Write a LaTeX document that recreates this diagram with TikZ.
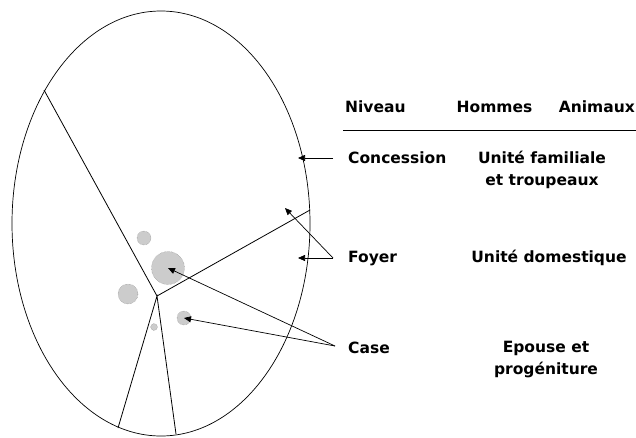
\documentclass[tikz,border=0pt]{standalone}
\usepackage{fontspec}
\setmainfont{DejaVu Sans}
\usepackage{tikz}
\usetikzlibrary{arrows.meta}
\tikzstyle{txt} = [font=\bfseries\fontsize{15.5}{22}\selectfont,
	inner sep=0pt, align=center]
\tikzstyle{arrow} =[-{Triangle[length=7pt, width=6pt]}, line width=0.7pt]
\tikzstyle{hut} = [circle, draw=gray, densely dotted,
	fill=black!20, inner sep=0pt]
\newcommand{\drawhut}[3]{\node[hut,
	minimum size=#3
	] (#1) at #2{}}

\begin{document}
\begin{tikzpicture}[x=1pt, y=-1pt]
			\useasboundingbox (0,0) rectangle (636,437);
			% concession
			\draw[line width=0.7pt] (161,223.5) ellipse [x radius=149, y radius=212.5];
			\coordinate (mid) at (157,296);
			\draw[line width=0.8pt] (44,90) -- (mid) -- (310,210);
			\draw[line width=0.8pt] (118,428) -- (mid) -- (176,434);
			
			% cases
			\drawhut{c1}{(144,238)}{14pt};
			\drawhut{c2}{(168,268)}{33pt};
			\drawhut{c3}{(128,294)}{20pt};
			\drawhut{c4}{(184,318)}{14pt};
			\drawhut{c5}{(154,327)}{7pt};
			
			% tableau
			\node (niv) [txt, anchor=base west] at (345,112) {Niveau};
			\node (hom) [txt, anchor=base] at (494.5,112) {Hommes};
			\node (ani) [txt, anchor=base east] at (635,112) {Animaux};
			\draw[line width=0.7pt] (343,130) -- (636,130);
			
			\node (conc) [txt, anchor=base west] at (348,163) {Concession};
			\node (fam) [txt, anchor=base] at (542,185.5) {Unité familiale\\et troupeaux};
			\node (foy) [txt, anchor=base west] at (348,262) {Foyer};
			\node (dom) [txt, anchor=base] at (549,262) {Unité domestique};
			\node (case) [txt, anchor=base west] at (348,353) {Case};
			\node (ep) [txt, anchor=base] at (546,374.5) {Epouse et\\progéniture};
			
			% fleches
			\coordinate (tc) at (333,158);
			\coordinate (tf) at (333,258);
			\coordinate (tk) at (335,346);
			\coordinate (pc) at (298,158);
			\coordinate (pf1) at (298,258);
			\coordinate (pf2) at (285,208);
			\draw [arrow] (tc) -- (pc);
			\draw [arrow] (tf) -- (pf1);
			\draw [arrow] (tf) -- (pf2);
			\draw [arrow] (tk) -- (c2.center);
			\draw [arrow] (tk) -- (c4.center);
		\end{tikzpicture}
\end{document}
